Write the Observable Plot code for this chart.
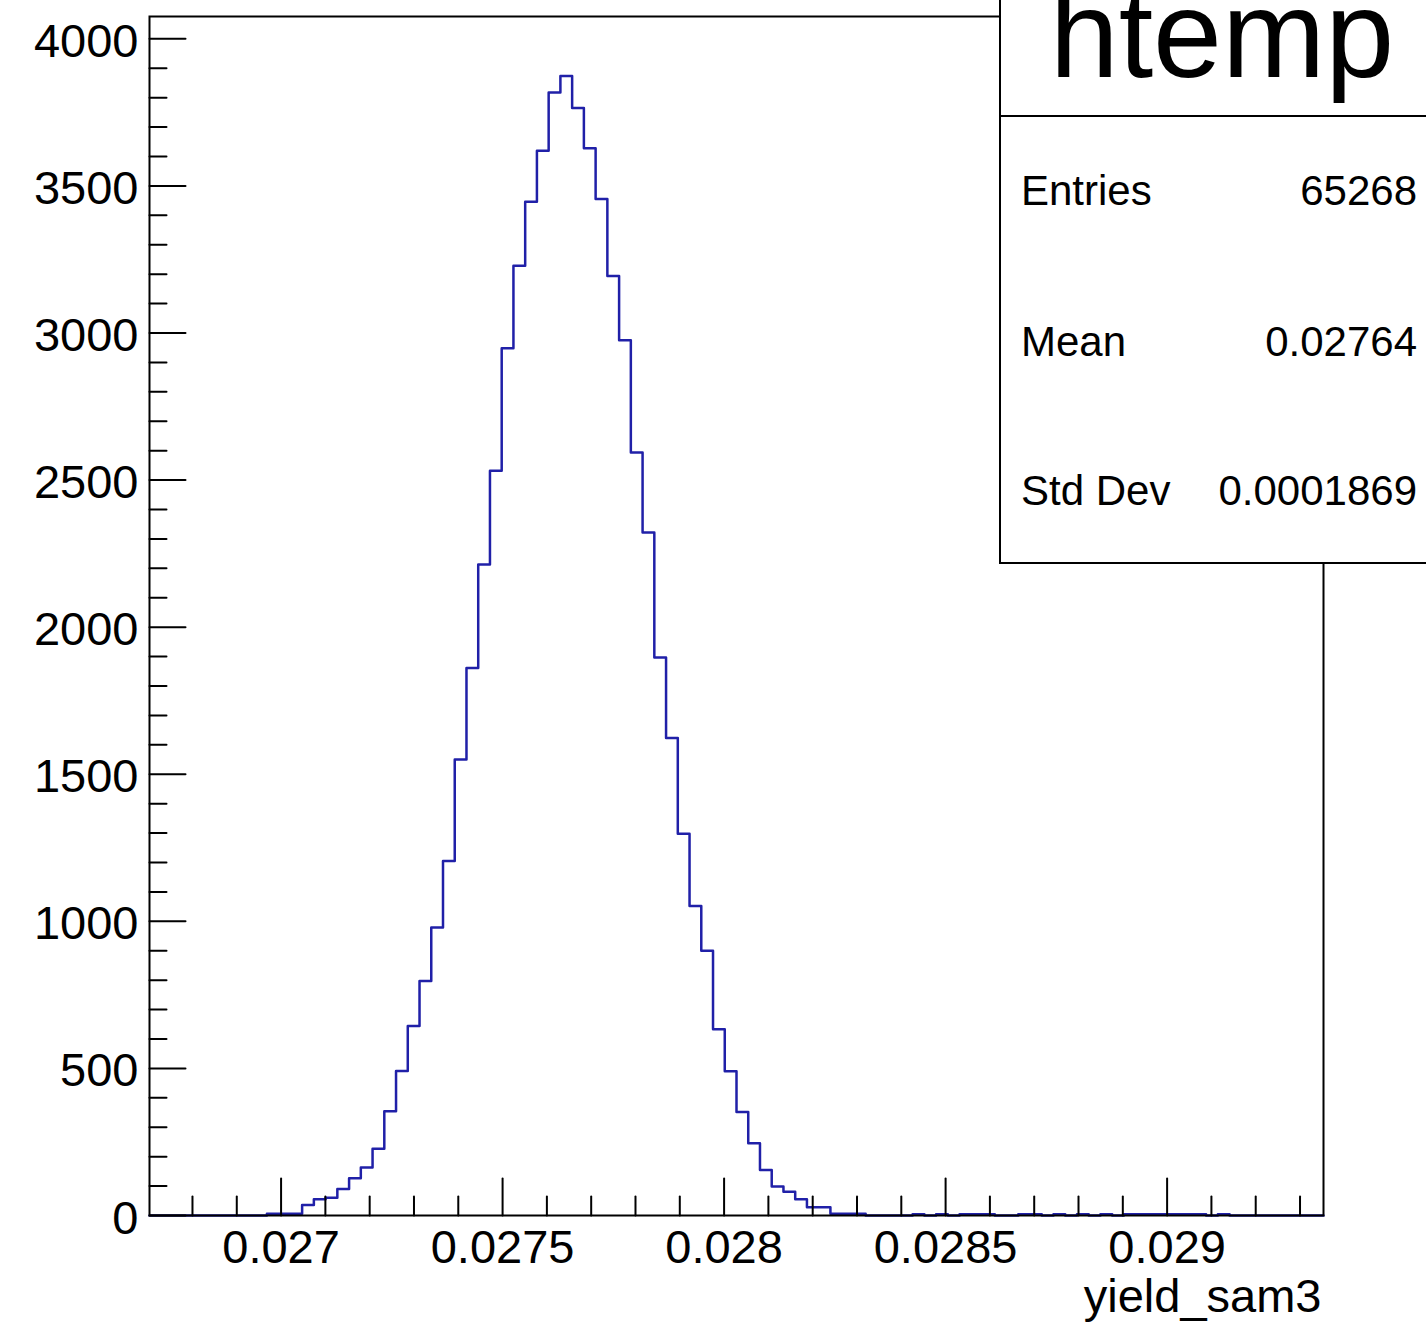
<!DOCTYPE html>
<html>
<head>
<meta charset="utf-8">
<script src="https://cdn.jsdelivr.net/npm/d3@7"></script>
<script src="https://cdn.jsdelivr.net/npm/@observablehq/plot@0.6"></script>
<style>
  html, body { margin: 0; padding: 0; background: white; overflow: hidden; }
  svg { display: block; }
</style>
</head>
<body>
<div id="chart"></div>
<script>
// ---- data ----
const histName = "htemp";
const xTitle = "yield_sam3";
const xMin = 0.026703;
const xMax = 0.029353;
const nBins = 100;
const counts = [
  0, 0, 0, 0, 0, 0, 0, 0, 0, 0,
  6, 6, 6, 36, 55, 60, 90, 127, 163, 227,
  354, 491, 644, 797, 979, 1205, 1550, 1861, 2213, 2532,
  2948, 3229, 3446, 3620, 3818, 3874, 3765, 3628, 3456, 3194,
  2975, 2594, 2322, 1897, 1623, 1298, 1052, 900, 633, 490,
  352, 246, 155, 99, 81, 55, 28, 28, 6, 6,
  6, 0, 0, 0, 0, 4, 0, 4, 0, 4,
  4, 4, 0, 0, 4, 4, 0, 4, 0, 4,
  0, 4, 0, 4, 4, 4, 4, 4, 4, 4,
  0, 4, 0, 0, 0, 0, 0, 0, 0, 0
];
const yMax = 4076;
const yMajorTicks = [0, 500, 1000, 1500, 2000, 2500, 3000, 3500, 4000];
const yMinorTicks = [100, 200, 300, 400, 600, 700, 800, 900, 1100, 1200, 1300, 1400,
  1600, 1700, 1800, 1900, 2100, 2200, 2300, 2400, 2600, 2700, 2800, 2900,
  3100, 3200, 3300, 3400, 3600, 3700, 3800, 3900];
const xMajorTicks = [0.027, 0.0275, 0.028, 0.0285, 0.029];
const xTickLabels = ["0.027", "0.0275", "0.028", "0.0285", "0.029"];
const xMinorTicks = [0.0268, 0.0269, 0.0271, 0.0272, 0.0273, 0.0274, 0.0276, 0.0277,
  0.0278, 0.0279, 0.0281, 0.0282, 0.0283, 0.0284, 0.0286, 0.0287, 0.0288, 0.0289,
  0.0291, 0.0292, 0.0293];
const statLabels = ["Entries", "Mean", "Std Dev"];
const statValues = ["65268", "0.02764", "0.0001869"];

// ---- build the step outline from the bins ----
const binWidth = (xMax - xMin) / nBins;
const steps = [];
counts.forEach((c, i) => {
  steps.push({x: xMin + i * binWidth, y: c});
  steps.push({x: xMin + (i + 1) * binWidth, y: c});
});

const font = "'Liberation Sans', Arial, Helvetica, sans-serif";
const tickShape = {draw(ctx, l) { ctx.moveTo(0, 0); ctx.lineTo(0, -l); }};
const histColor = "#2020a8";

const W = 1426, H = 1324;
const plot = Plot.plot({
  width: W,
  height: H,
  marginLeft: 149,
  marginRight: 103,
  marginTop: 16,
  marginBottom: 109,
  style: {fontFamily: font, background: "white", color: "black"},
  x: {domain: [xMin, xMax]},
  y: {domain: [0, yMax]},
  marks: [
    Plot.line(steps, {x: "x", y: "y", stroke: histColor, strokeWidth: 2.5, curve: "linear"}),
    Plot.frame({stroke: "black", strokeWidth: 2}),
    // y ticks (inside the frame)
    Plot.vector(yMajorTicks, {y: d => d, frameAnchor: "left", rotate: 90, anchor: "start", length: 36, shape: tickShape, stroke: "black", strokeWidth: 2}),
    Plot.vector(yMinorTicks, {y: d => d, frameAnchor: "left", rotate: 90, anchor: "start", length: 17, shape: tickShape, stroke: "black", strokeWidth: 2}),
    // x ticks (inside the frame)
    Plot.vector(xMajorTicks, {x: d => d, frameAnchor: "bottom", rotate: 0, anchor: "start", length: 37, shape: tickShape, stroke: "black", strokeWidth: 2}),
    Plot.vector(xMinorTicks, {x: d => d, frameAnchor: "bottom", rotate: 0, anchor: "start", length: 19, shape: tickShape, stroke: "black", strokeWidth: 2}),
    // tick labels
    Plot.axisY(yMajorTicks, {tickSize: 0, tickPadding: 11, fontSize: 47, dy: 3, tickFormat: d => String(d), label: null}),
    Plot.axisX(xMajorTicks, {tickSize: 0, tickPadding: 14, fontSize: 47, tickFormat: d => xTickLabels[xMajorTicks.indexOf(d)], label: null}),
    // axis title
    Plot.text([xTitle], {frameAnchor: "bottom-right", text: d => d, textAnchor: "end", lineAnchor: "top", dx: -2, dy: 63, fontSize: 47, fill: "black"})
  ]
});

document.getElementById("chart").appendChild(plot);

// ---- statistics box (ROOT style), drawn on top of the frame ----
const svg = d3.select(plot);
const box = svg.append("g").attr("font-family", font).attr("fill", "black");
box.append("rect")
  .attr("x", 1000).attr("y", -10).attr("width", 500).attr("height", 573)
  .attr("fill", "white").attr("stroke", "black").attr("stroke-width", 2);
box.append("line")
  .attr("x1", 1000).attr("x2", 1500).attr("y1", 116).attr("y2", 116)
  .attr("stroke", "black").attr("stroke-width", 2);
box.append("text")
  .attr("x", 1222).attr("y", 77).attr("text-anchor", "middle")
  .attr("font-size", 124).text(histName);
const rowBaselines = [205, 356, 505];
statLabels.forEach((lab, i) => {
  box.append("text").attr("x", 1021).attr("y", rowBaselines[i])
    .attr("text-anchor", "start").attr("font-size", 42).text(lab);
  box.append("text").attr("x", 1417).attr("y", rowBaselines[i])
    .attr("text-anchor", "end").attr("font-size", 42).text(statValues[i]);
});
</script>
</body>
</html>
